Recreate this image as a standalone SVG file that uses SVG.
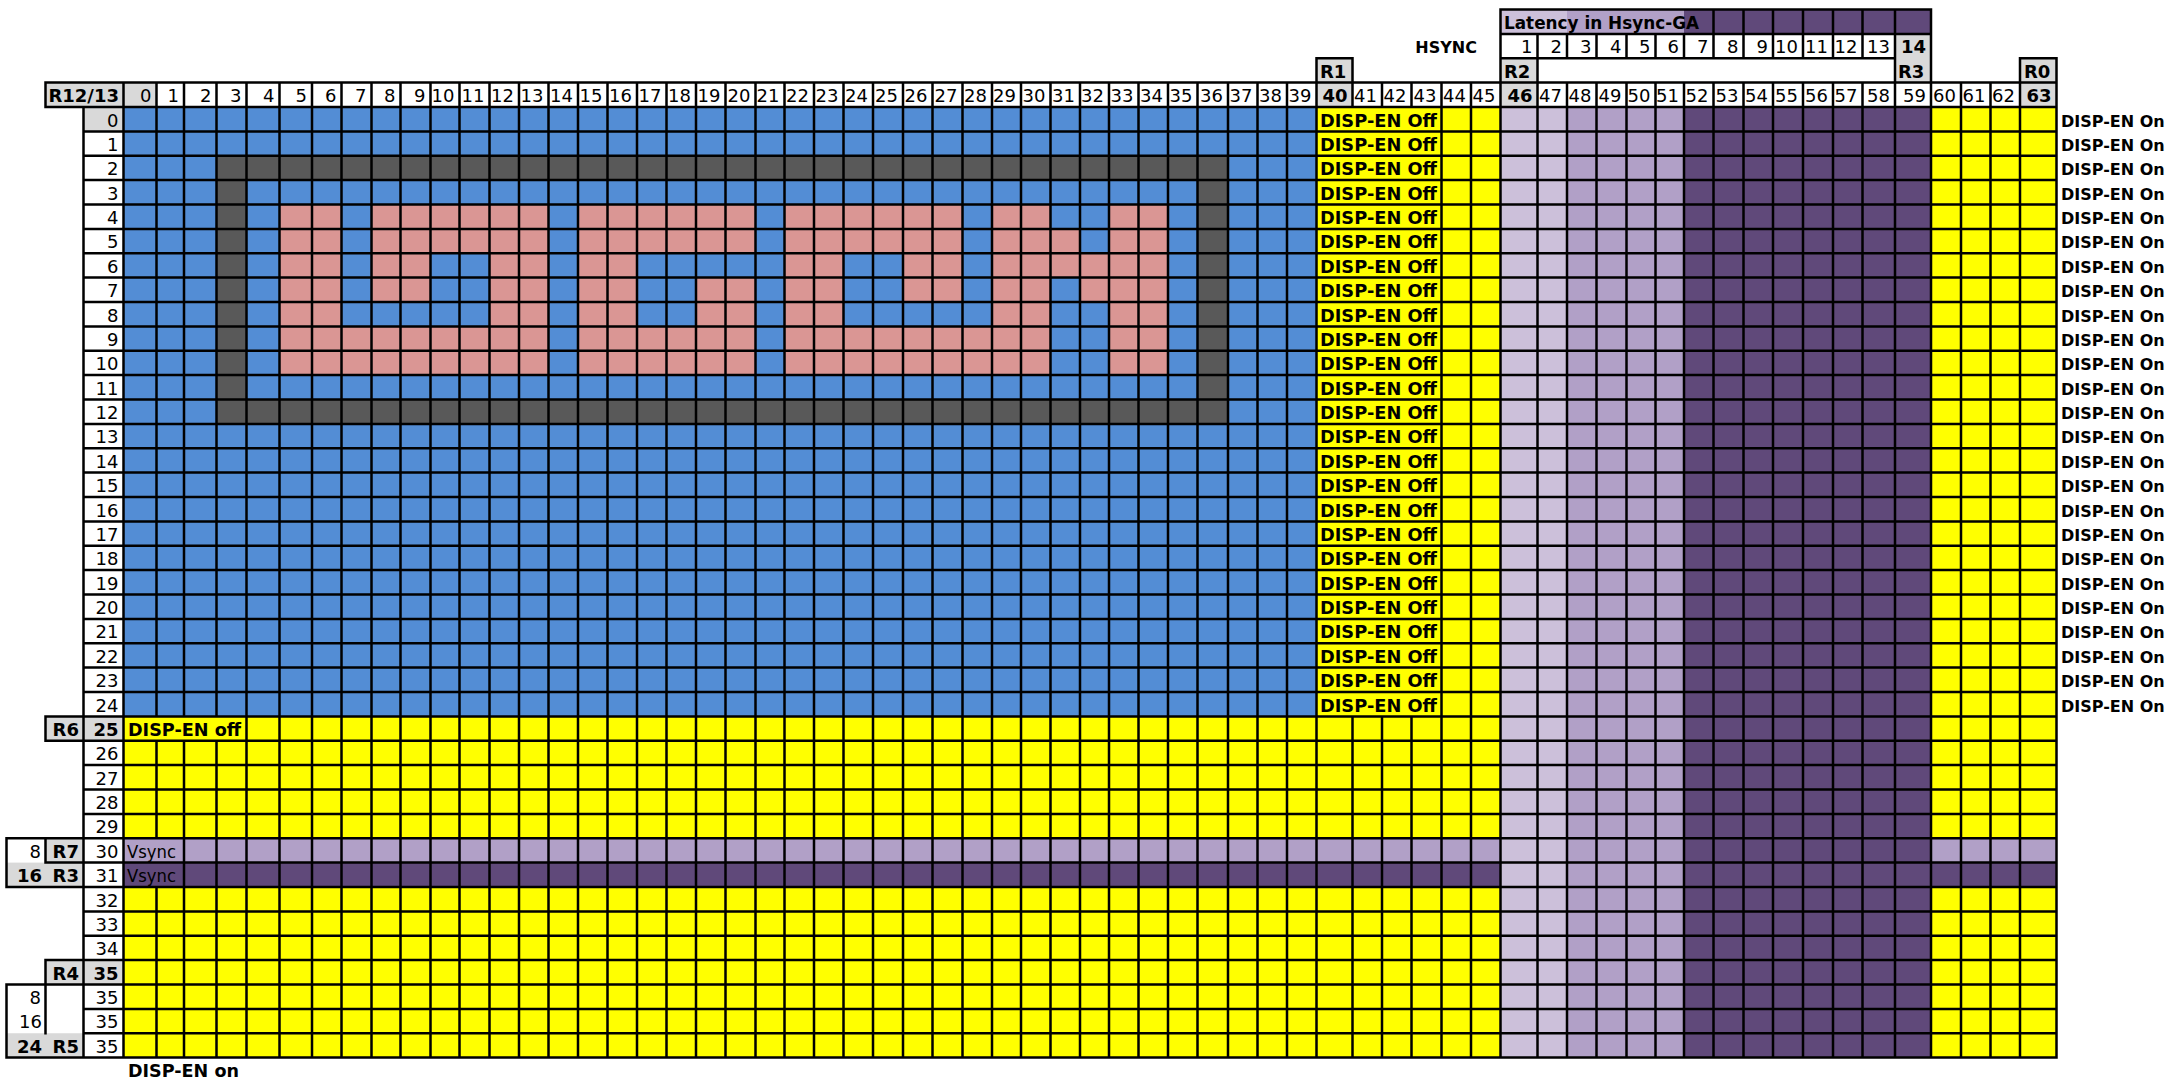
<svg xmlns="http://www.w3.org/2000/svg" width="2168" height="1079" viewBox="0 0 2168 1079">
<style>
text{font-family:"DejaVu Sans","Liberation Sans",sans-serif;font-size:18px;fill:#000}
.b{font-weight:bold}
.e{text-anchor:end}
.bl{fill:#538DD5}.dg{fill:#595959}.pk{fill:#DA9694}.ye{fill:#FFFF00}
.l1{fill:#CCC0DA}.l2{fill:#B1A0C7}.l3{fill:#60497A}.gr{fill:#D9D9D9}
.grid{fill:none;stroke:#000;stroke-width:2.5;stroke-linecap:square}
#dispon text{font-size:16px}
</style>
<rect width="2168" height="1079" fill="#fff"/>
<g id="fills">
<rect class="bl" x="123.5" y="107" width="1193" height="609.4"/>
<rect class="dg" x="216.5" y="155.75" width="1011.5" height="24.4"/>
<rect class="dg" x="216.5" y="399.5" width="1011.5" height="24.4"/>
<rect class="dg" x="216.5" y="180.1" width="30" height="219.4"/>
<rect class="dg" x="1197.5" y="180.1" width="30.5" height="219.4"/>
<g id="letters" class="pk">
<rect x="279.5" y="204.5" width="62" height="170.6"/>
<rect x="489.5" y="204.5" width="59" height="170.6"/>
<rect x="578" y="204.5" width="59" height="170.6"/>
<rect x="784.5" y="204.5" width="59" height="170.6"/>
<rect x="992" y="204.5" width="58.5" height="170.6"/>
<rect x="1109" y="204.5" width="59" height="170.6"/>
<rect x="371.5" y="204.5" width="118" height="48.75"/>
<rect x="637" y="204.5" width="118.5" height="48.75"/>
<rect x="843.5" y="204.5" width="119" height="48.75"/>
<rect x="1050.5" y="228.9" width="29.5" height="24.4"/>
<rect x="371.5" y="253.25" width="59" height="48.75"/>
<rect x="903" y="253.25" width="59.5" height="48.75"/>
<rect x="1050.5" y="253.25" width="58.5" height="24.4"/>
<rect x="1080" y="277.6" width="29" height="24.4"/>
<rect x="696" y="277.6" width="59.5" height="48.75"/>
<rect x="341.5" y="326.4" width="148" height="48.75"/>
<rect x="637" y="326.4" width="118.5" height="48.75"/>
<rect x="843.5" y="326.4" width="148.5" height="48.75"/>
</g>
<rect class="ye" x="1316.5" y="107" width="184" height="609.4"/>
<rect class="ye" x="123.5" y="716.4" width="1377" height="121.9"/>
<rect class="ye" x="123.5" y="887" width="1377" height="170.6"/>
<rect class="ye" x="1931" y="107" width="125.5" height="731.25"/>
<rect class="ye" x="1931" y="887" width="125.5" height="170.6"/>
<rect class="l1" x="1500.5" y="107" width="66.5" height="950.6"/>
<rect class="l2" x="1567" y="107" width="117" height="950.6"/>
<rect class="l3" x="1684" y="107" width="247" height="950.6"/>
<rect class="l2" x="123.5" y="838.25" width="1377" height="24.4"/>
<rect class="l2" x="1931" y="838.25" width="125.5" height="24.4"/>
<rect class="l3" x="123.5" y="862.6" width="1377" height="24.4"/>
<rect class="l3" x="1931" y="862.6" width="125.5" height="24.4"/>
<rect class="l1" x="1500.5" y="9.5" width="66.5" height="24.4"/>
<rect class="l2" x="1567" y="9.5" width="117" height="24.4"/>
<rect class="l3" x="1684" y="9.5" width="247" height="24.4"/>
<rect class="gr" x="45.5" y="82.6" width="78" height="24.4"/>
<rect class="gr" x="123.5" y="82.6" width="33" height="24.4"/>
<rect class="gr" x="1316.5" y="58.25" width="36" height="48.75"/>
<rect class="gr" x="1500.5" y="58.25" width="37" height="48.75"/>
<rect class="gr" x="1895" y="33.9" width="36" height="48.75"/>
<rect class="gr" x="2020" y="58.25" width="36.5" height="48.75"/>
<rect class="gr" x="83.5" y="107" width="40" height="24.4"/>
<rect class="gr" x="45.5" y="716.4" width="78" height="24.4"/>
<rect class="gr" x="45.5" y="838.25" width="38" height="24.4"/>
<rect class="gr" x="6.5" y="862.6" width="77" height="24.4"/>
<rect class="gr" x="45.5" y="960.1" width="78" height="24.4"/>
<rect class="gr" x="6.5" y="1033.25" width="77" height="24.4"/>
</g>
<g id="connectors">
<path class="grid" d="M6.5 838.25V887M6.5 984.5V1057.6M45.5 82.6V107M45.5 716.4V740.75M45.5 838.25V862.6M45.5 960.1V1033.25M83.5 107V1057.6M123.5 82.6V1057.6
M156.5 82.6V716.4M156.5 740.75V838.25M156.5 887V1057.6M184 82.6V716.4M184 740.75V1057.6M216.5 82.6V716.4M216.5 740.75V1057.6
M246.5 82.6V1057.6M279.5 82.6V1057.6M312 82.6V1057.6M341.5 82.6V1057.6M371.5 82.6V1057.6M400.5 82.6V1057.6M430.5 82.6V1057.6M459.5 82.6V1057.6M489.5 82.6V1057.6M519 82.6V1057.6M548.5 82.6V1057.6M578 82.6V1057.6M607.5 82.6V1057.6M637 82.6V1057.6M666.5 82.6V1057.6M696 82.6V1057.6M725.5 82.6V1057.6M755.5 82.6V1057.6M784.5 82.6V1057.6M814 82.6V1057.6M843.5 82.6V1057.6M873 82.6V1057.6M903 82.6V1057.6M932.5 82.6V1057.6M962.5 82.6V1057.6M992 82.6V1057.6M1021 82.6V1057.6M1050.5 82.6V1057.6M1080 82.6V1057.6M1109 82.6V1057.6M1138.5 82.6V1057.6M1168 82.6V1057.6M1197.5 82.6V1057.6M1228 82.6V1057.6M1257.5 82.6V1057.6M1287 82.6V1057.6
M1316.5 58.25V1057.6M1352.5 58.25V107M1352.5 716.4V1057.6M1382 82.6V107M1382 716.4V1057.6M1411.5 82.6V107M1411.5 716.4V1057.6M1441.5 82.6V1057.6M1471 82.6V1057.6
M1500.5 9.5V1057.6M1537.5 33.9V1057.6
M1567 33.9V58.25M1567 82.6V1057.6M1596.5 33.9V58.25M1596.5 82.6V1057.6M1626.5 33.9V58.25M1626.5 82.6V1057.6M1655.5 33.9V58.25M1655.5 82.6V1057.6M1684 33.9V58.25M1684 82.6V1057.6
M1713.5 9.5V58.25M1713.5 82.6V1057.6M1743.5 9.5V58.25M1743.5 82.6V1057.6M1773 9.5V58.25M1773 82.6V1057.6M1803 9.5V58.25M1803 82.6V1057.6M1833 9.5V58.25M1833 82.6V1057.6M1862.5 9.5V58.25M1862.5 82.6V1057.6
M1895 9.5V1057.6M1931 9.5V1057.6M1961 82.6V1057.6M1990.5 82.6V1057.6M2020 58.25V1057.6M2056.5 58.25V1057.6
M1500.5 9.5H1931M1500.5 33.9H1931M1316.5 58.25H1352.5M1500.5 58.25H1895M2020 58.25H2056.5M45.5 82.6H2056.5M45.5 107H2056.5
M83.5 131.4H2056.5M83.5 155.75H2056.5M83.5 180.1H2056.5M83.5 204.5H2056.5M83.5 228.9H2056.5M83.5 253.25H2056.5M83.5 277.6H2056.5M83.5 302H2056.5M83.5 326.4H2056.5M83.5 350.75H2056.5M83.5 375.1H2056.5M83.5 399.5H2056.5M83.5 423.9H2056.5M83.5 448.25H2056.5M83.5 472.6H2056.5M83.5 497H2056.5M83.5 521.4H2056.5M83.5 545.75H2056.5M83.5 570.1H2056.5M83.5 594.5H2056.5M83.5 618.9H2056.5M83.5 643.25H2056.5M83.5 667.6H2056.5M83.5 692H2056.5
M45.5 716.4H2056.5M45.5 740.75H2056.5M83.5 765.1H2056.5M83.5 789.5H2056.5M83.5 813.9H2056.5M6.5 838.25H2056.5M45.5 862.6H2056.5M6.5 887H2056.5M83.5 911.4H2056.5M83.5 935.75H2056.5M45.5 960.1H2056.5M6.5 984.5H2056.5M83.5 1008.9H2056.5M83.5 1033.25H2056.5M6.5 1057.6H2056.5"/>
</g>
<g id="header">
<text class="b e" x="119" y="102.1">R12/13</text>
<g class="e">
<text x="151.5" y="102.1">0</text><text x="179" y="102.1">1</text><text x="211.5" y="102.1">2</text><text x="241.5" y="102.1">3</text><text x="274.5" y="102.1">4</text><text x="307" y="102.1">5</text><text x="336.5" y="102.1">6</text><text x="366.5" y="102.1">7</text><text x="395.5" y="102.1">8</text><text x="425.5" y="102.1">9</text><text x="454.5" y="102.1">10</text><text x="484.5" y="102.1">11</text><text x="514" y="102.1">12</text><text x="543.5" y="102.1">13</text><text x="573" y="102.1">14</text><text x="602.5" y="102.1">15</text><text x="632" y="102.1">16</text><text x="661.5" y="102.1">17</text><text x="691" y="102.1">18</text><text x="720.5" y="102.1">19</text><text x="750.5" y="102.1">20</text><text x="779.5" y="102.1">21</text><text x="809" y="102.1">22</text><text x="838.5" y="102.1">23</text><text x="868" y="102.1">24</text><text x="898" y="102.1">25</text><text x="927.5" y="102.1">26</text><text x="957.5" y="102.1">27</text><text x="987" y="102.1">28</text><text x="1016" y="102.1">29</text><text x="1045.5" y="102.1">30</text><text x="1075" y="102.1">31</text><text x="1104" y="102.1">32</text><text x="1133.5" y="102.1">33</text><text x="1163" y="102.1">34</text><text x="1192.5" y="102.1">35</text><text x="1223" y="102.1">36</text><text x="1252.5" y="102.1">37</text><text x="1282" y="102.1">38</text><text x="1311.5" y="102.1">39</text><text class="b" x="1347.5" y="102.1">40</text><text x="1377" y="102.1">41</text><text x="1406.5" y="102.1">42</text><text x="1436.5" y="102.1">43</text><text x="1466" y="102.1">44</text><text x="1495.5" y="102.1">45</text><text class="b" x="1532.5" y="102.1">46</text><text x="1562" y="102.1">47</text><text x="1591.5" y="102.1">48</text><text x="1621.5" y="102.1">49</text><text x="1650.5" y="102.1">50</text><text x="1679" y="102.1">51</text><text x="1708.5" y="102.1">52</text><text x="1738.5" y="102.1">53</text><text x="1768" y="102.1">54</text><text x="1798" y="102.1">55</text><text x="1828" y="102.1">56</text><text x="1857.5" y="102.1">57</text><text x="1890" y="102.1">58</text><text x="1926" y="102.1">59</text><text x="1956" y="102.1">60</text><text x="1985.5" y="102.1">61</text><text x="2015" y="102.1">62</text><text class="b" x="2051.5" y="102.1">63</text>
</g>
<g class="b">
<text x="1320" y="77.75">R1</text><text x="1504" y="77.75">R2</text><text x="1898" y="77.75">R3</text><text x="2024" y="77.75">R0</text>
</g>
<text class="b e" x="1477" y="53.4" style="font-size:16px">HSYNC</text>
<g class="e">
<text x="1532.5" y="53.4">1</text><text x="1562" y="53.4">2</text><text x="1591.5" y="53.4">3</text><text x="1621.5" y="53.4">4</text><text x="1650.5" y="53.4">5</text><text x="1679" y="53.4">6</text><text x="1708.5" y="53.4">7</text><text x="1738.5" y="53.4">8</text><text x="1768" y="53.4">9</text><text x="1798" y="53.4">10</text><text x="1828" y="53.4">11</text><text x="1857.5" y="53.4">12</text><text x="1890" y="53.4">13</text><text class="b" x="1926" y="53.4">14</text>
</g>
<text class="b" x="1504" y="29" textLength="195" lengthAdjust="spacingAndGlyphs">Latency in Hsync-GA</text>
</g>
<g id="rowlabels" class="e">
<text x="118.5" y="126.5">0</text><text x="118.5" y="150.9">1</text><text x="118.5" y="175.25">2</text><text x="118.5" y="199.6">3</text><text x="118.5" y="224">4</text><text x="118.5" y="248.4">5</text><text x="118.5" y="272.75">6</text><text x="118.5" y="297.1">7</text><text x="118.5" y="321.5">8</text><text x="118.5" y="345.9">9</text><text x="118.5" y="370.25">10</text><text x="118.5" y="394.6">11</text><text x="118.5" y="419">12</text><text x="118.5" y="443.4">13</text><text x="118.5" y="467.75">14</text><text x="118.5" y="492.1">15</text><text x="118.5" y="516.5">16</text><text x="118.5" y="540.9">17</text><text x="118.5" y="565.25">18</text><text x="118.5" y="589.6">19</text><text x="118.5" y="614">20</text><text x="118.5" y="638.4">21</text><text x="118.5" y="662.75">22</text><text x="118.5" y="687.1">23</text><text x="118.5" y="711.5">24</text>
<text class="b" x="118.5" y="735.9">25</text><text class="b" x="79" y="735.9">R6</text>
<text x="118.5" y="760.25">26</text><text x="118.5" y="784.6">27</text><text x="118.5" y="809">28</text><text x="118.5" y="833.4">29</text>
<text x="41" y="857.75">8</text><text class="b" x="79" y="857.75">R7</text><text x="118.5" y="857.75">30</text>
<text class="b" x="42" y="882.1">16</text><text class="b" x="79" y="882.1">R3</text><text x="118.5" y="882.1">31</text>
<text x="118.5" y="906.5">32</text><text x="118.5" y="930.9">33</text><text x="118.5" y="955.25">34</text>
<text class="b" x="79" y="979.6">R4</text><text class="b" x="118.5" y="979.6">35</text>
<text x="41" y="1004">8</text><text x="118.5" y="1004">35</text>
<text x="42" y="1028.4">16</text><text x="118.5" y="1028.4">35</text>
<text class="b" x="42" y="1052.75">24</text><text class="b" x="79" y="1052.75">R5</text><text x="118.5" y="1052.75">35</text>
</g>
<g id="labels">
<text class="b" x="128" y="735.9" textLength="113" lengthAdjust="spacingAndGlyphs">DISP-EN off</text>
<text x="127" y="857.75" textLength="49" lengthAdjust="spacingAndGlyphs">Vsync</text>
<text x="127" y="882.1" textLength="49" lengthAdjust="spacingAndGlyphs">Vsync</text>
<text class="b" x="128" y="1077" textLength="111" lengthAdjust="spacingAndGlyphs">DISP-EN on</text>
</g>
<g id="dispoff" class="b">
<text x="1320" y="126.5" textLength="117" lengthAdjust="spacingAndGlyphs">DISP-EN Off</text><text x="1320" y="150.9" textLength="117" lengthAdjust="spacingAndGlyphs">DISP-EN Off</text><text x="1320" y="175.25" textLength="117" lengthAdjust="spacingAndGlyphs">DISP-EN Off</text><text x="1320" y="199.6" textLength="117" lengthAdjust="spacingAndGlyphs">DISP-EN Off</text><text x="1320" y="224" textLength="117" lengthAdjust="spacingAndGlyphs">DISP-EN Off</text><text x="1320" y="248.4" textLength="117" lengthAdjust="spacingAndGlyphs">DISP-EN Off</text><text x="1320" y="272.75" textLength="117" lengthAdjust="spacingAndGlyphs">DISP-EN Off</text><text x="1320" y="297.1" textLength="117" lengthAdjust="spacingAndGlyphs">DISP-EN Off</text><text x="1320" y="321.5" textLength="117" lengthAdjust="spacingAndGlyphs">DISP-EN Off</text><text x="1320" y="345.9" textLength="117" lengthAdjust="spacingAndGlyphs">DISP-EN Off</text><text x="1320" y="370.25" textLength="117" lengthAdjust="spacingAndGlyphs">DISP-EN Off</text><text x="1320" y="394.6" textLength="117" lengthAdjust="spacingAndGlyphs">DISP-EN Off</text><text x="1320" y="419" textLength="117" lengthAdjust="spacingAndGlyphs">DISP-EN Off</text><text x="1320" y="443.4" textLength="117" lengthAdjust="spacingAndGlyphs">DISP-EN Off</text><text x="1320" y="467.75" textLength="117" lengthAdjust="spacingAndGlyphs">DISP-EN Off</text><text x="1320" y="492.1" textLength="117" lengthAdjust="spacingAndGlyphs">DISP-EN Off</text><text x="1320" y="516.5" textLength="117" lengthAdjust="spacingAndGlyphs">DISP-EN Off</text><text x="1320" y="540.9" textLength="117" lengthAdjust="spacingAndGlyphs">DISP-EN Off</text><text x="1320" y="565.25" textLength="117" lengthAdjust="spacingAndGlyphs">DISP-EN Off</text><text x="1320" y="589.6" textLength="117" lengthAdjust="spacingAndGlyphs">DISP-EN Off</text><text x="1320" y="614" textLength="117" lengthAdjust="spacingAndGlyphs">DISP-EN Off</text><text x="1320" y="638.4" textLength="117" lengthAdjust="spacingAndGlyphs">DISP-EN Off</text><text x="1320" y="662.75" textLength="117" lengthAdjust="spacingAndGlyphs">DISP-EN Off</text><text x="1320" y="687.1" textLength="117" lengthAdjust="spacingAndGlyphs">DISP-EN Off</text><text x="1320" y="711.5" textLength="117" lengthAdjust="spacingAndGlyphs">DISP-EN Off</text>
</g>
<g id="dispon" class="b">
<text x="2061" y="126.5">DISP-EN On</text><text x="2061" y="150.9">DISP-EN On</text><text x="2061" y="175.25">DISP-EN On</text><text x="2061" y="199.6">DISP-EN On</text><text x="2061" y="224">DISP-EN On</text><text x="2061" y="248.4">DISP-EN On</text><text x="2061" y="272.75">DISP-EN On</text><text x="2061" y="297.1">DISP-EN On</text><text x="2061" y="321.5">DISP-EN On</text><text x="2061" y="345.9">DISP-EN On</text><text x="2061" y="370.25">DISP-EN On</text><text x="2061" y="394.6">DISP-EN On</text><text x="2061" y="419">DISP-EN On</text><text x="2061" y="443.4">DISP-EN On</text><text x="2061" y="467.75">DISP-EN On</text><text x="2061" y="492.1">DISP-EN On</text><text x="2061" y="516.5">DISP-EN On</text><text x="2061" y="540.9">DISP-EN On</text><text x="2061" y="565.25">DISP-EN On</text><text x="2061" y="589.6">DISP-EN On</text><text x="2061" y="614">DISP-EN On</text><text x="2061" y="638.4">DISP-EN On</text><text x="2061" y="662.75">DISP-EN On</text><text x="2061" y="687.1">DISP-EN On</text><text x="2061" y="711.5">DISP-EN On</text>
</g>
</svg>
